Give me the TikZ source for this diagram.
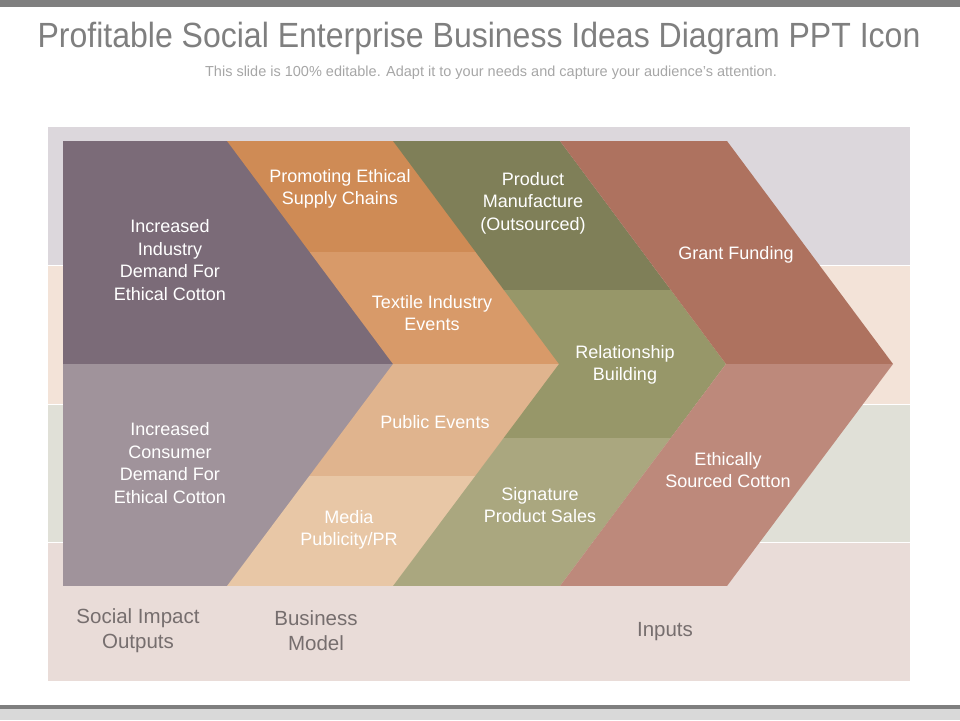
\documentclass[tikz,border=0pt]{standalone}
\usepackage{fontspec}
\setmainfont{Liberation Sans}
\newfontfamily\titlefont[FakeStretch=0.915]{Liberation Sans}
\usepackage{xcolor}
\usepackage{tikz}

\definecolor{bargray}{HTML}{7F7F7F}
\definecolor{footgray}{HTML}{D9D9D9}
\definecolor{titlegray}{HTML}{7F7F7F}
\definecolor{subgray}{HTML}{A6A6A6}
\definecolor{capgray}{HTML}{766E6E}
\definecolor{bandA}{HTML}{DCD7DC}
\definecolor{bandB}{HTML}{F3E3D8}
\definecolor{bandC}{HTML}{E0E0D7}
\definecolor{bandD}{HTML}{E9DCD8}
\definecolor{plumdark}{HTML}{7B6B78}
\definecolor{plumlight}{HTML}{A0939B}
\definecolor{orangeA}{HTML}{CF8B55}
\definecolor{orangeB}{HTML}{D89A69}
\definecolor{orangeC}{HTML}{E0B48E}
\definecolor{orangeD}{HTML}{E8C7A6}
\definecolor{oliveA}{HTML}{7F7F58}
\definecolor{oliveB}{HTML}{979769}
\definecolor{oliveC}{HTML}{AAA77F}
\definecolor{rustdark}{HTML}{AE725F}
\definecolor{rustlight}{HTML}{BD897B}

% chevron with its left edge starting at x=#1 (1pt overlap to the left)
\newcommand{\chevpath}[1]{(#1-1,141) -- (#1+166,141) -- (#1+332,364) -- (#1+166,586) -- (#1-1,586) -- (#1+165,364) -- cycle}

\begin{document}
\begin{tikzpicture}[x=1pt, y=-1pt,
		lbl/.style={text=white, align=center, font=\fontsize{18}{22.5}\selectfont},
		caption/.style={text=capgray, align=center, font=\fontsize{20.5}{25}\selectfont}]
\useasboundingbox (0,0) rectangle (960,720);

% slide frame
\fill[bargray] (0,0) rectangle (960,7);
\fill[bargray] (0,705) rectangle (960,709);
\fill[footgray] (0,709) rectangle (960,720);

\node[font=\titlefont\fontsize{35}{40}\selectfont, text=titlegray, anchor=base] (title) at (479,47)
	{Profitable Social Enterprise Business Ideas Diagram PPT Icon};
\node[font=\fontsize{14.5}{16}\selectfont, text=subgray, anchor=base] (subtitle) at (491,76)
	{This slide is 100\% editable. Adapt it to your needs and capture your audience's attention.};

% background bands
\fill[bandA] (48,127) rectangle (910,265);
\fill[bandB] (48,266) rectangle (910,404);
\fill[bandC] (48,405) rectangle (910,542);
\fill[bandD] (48,543) rectangle (910,681);

% social impact column
\begin{scope}
	\clip (63,141) -- (228,141) -- (394,364) -- (228,586) -- (63,586) -- cycle;
	\fill[plumdark] (0,141) rectangle (960,364);
	\fill[plumlight] (0,364) rectangle (960,586);
\end{scope}

% business model column
\begin{scope}
	\clip \chevpath{228};
	\fill[orangeA] (0,141) rectangle (960,252);
	\fill[orangeB] (0,252) rectangle (960,364);
	\fill[orangeC] (0,364) rectangle (960,476);
	\fill[orangeD] (0,476) rectangle (960,586);
\end{scope}

% inputs columns
\begin{scope}
	\clip \chevpath{394};
	\fill[oliveA] (0,141) rectangle (960,290);
	\fill[oliveB] (0,290) rectangle (960,438);
	\fill[oliveC] (0,438) rectangle (960,586);
\end{scope}
\begin{scope}
	\clip \chevpath{561};
	\fill[rustdark] (0,141) rectangle (960,364);
	\fill[rustlight] (0,364) rectangle (960,586);
\end{scope}

\node[lbl] (industry) at (170,260) {Increased\\Industry\\Demand For\\Ethical Cotton};
\node[lbl] (consumer) at (170,463) {Increased\\Consumer\\Demand For\\Ethical Cotton};
\node[lbl] (supply) at (340,189) {Promoting Ethical\\Supply Chains};
\node[lbl] (textile) at (432,313) {Textile Industry\\Events};
\node[lbl] (public) at (435,422) {Public Events};
\node[lbl] (media) at (349,530) {Media\\Publicity/PR};
\node[lbl] (manufacture) at (533,203) {Product\\Manufacture\\(Outsourced)};
\node[lbl] (relation) at (625,365) {Relationship\\Building};
\node[lbl] (signature) at (540,505) {Signature\\Product Sales};
\node[lbl] (grant) at (736,255) {Grant Funding};
\node[lbl] (sourced) at (728,470) {Ethically\\Sourced Cotton};

\node[caption] (outputs) at (138,630.5) {Social Impact\\Outputs};
\node[caption] (model) at (316,630.5) {Business\\Model};
\node[caption] (inputs) at (665,632) {Inputs};
\end{tikzpicture}
\end{document}
